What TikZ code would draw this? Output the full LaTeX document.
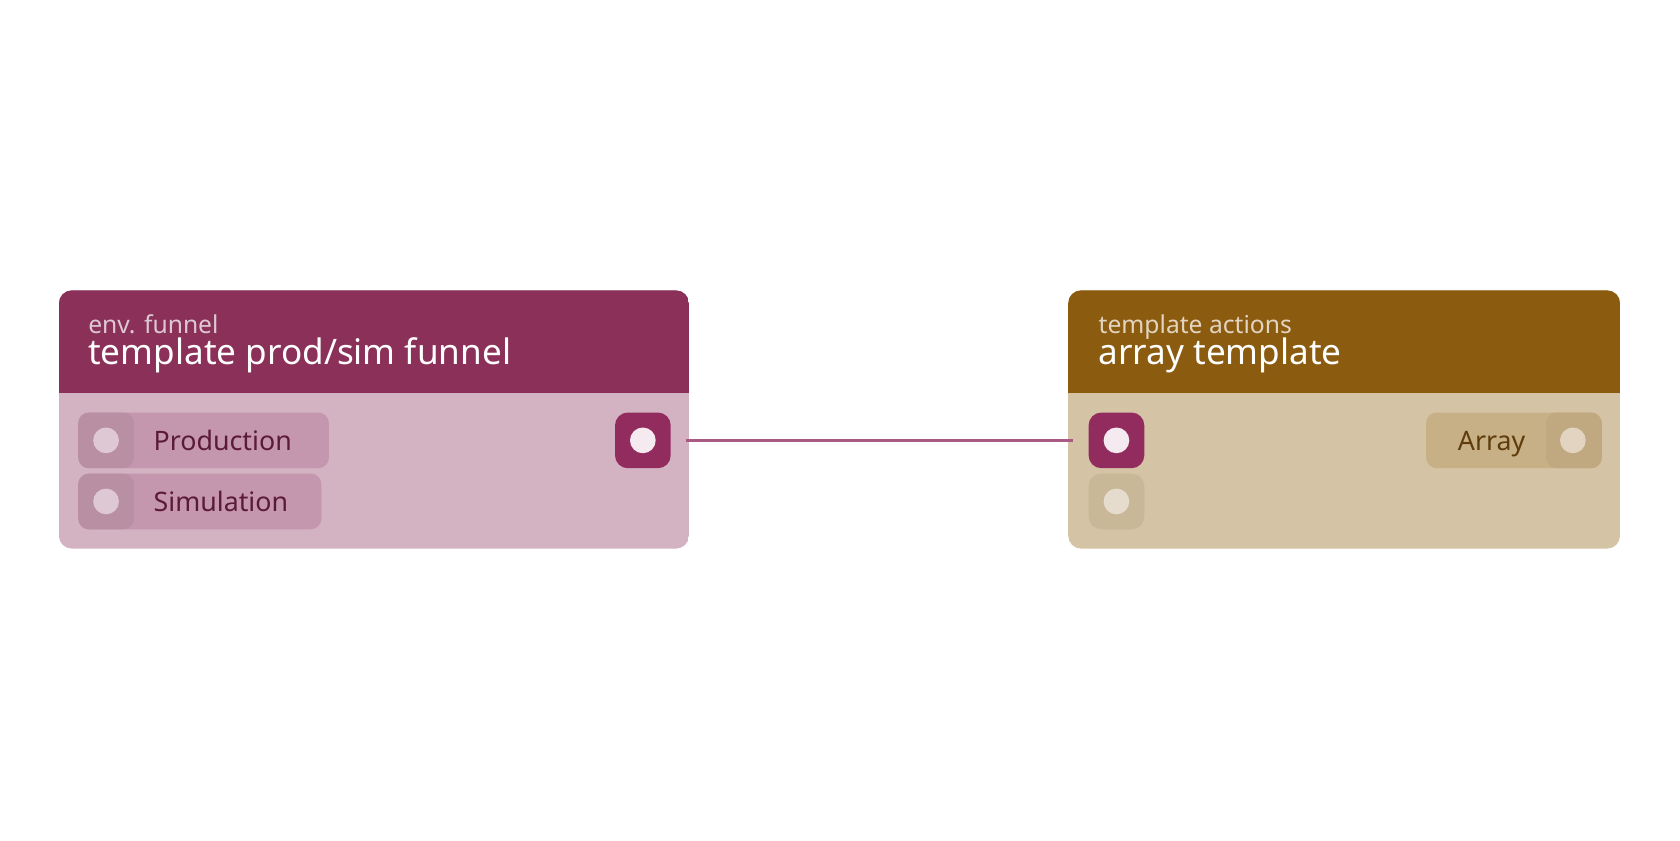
\documentclass[tikz,border=0pt]{standalone}
\usepackage{fontspec}
\setmainfont{Noto Sans}
\begin{document}
\definecolor{mhead}{HTML}{8A3059}
\definecolor{mbody}{HTML}{D3B2C2}
\definecolor{mpill}{HTML}{C497AE}
\definecolor{minner}{HTML}{B98FA4}
\definecolor{mdot}{HTML}{DEC8D3}
\definecolor{mport}{HTML}{922C5E}
\definecolor{mwhite}{HTML}{F5EAF0}
\definecolor{mtext}{HTML}{5C1A3A}
\definecolor{mline}{HTML}{A85A85}
\definecolor{bhead}{HTML}{8B5C10}
\definecolor{bbody}{HTML}{D4C3A4}
\definecolor{bpill}{HTML}{C8B086}
\definecolor{binner}{HTML}{C0A880}
\definecolor{bdot}{HTML}{E2D4C0}
\definecolor{bfport}{HTML}{C9B898}
\definecolor{bfdot}{HTML}{E5DCCE}
\definecolor{btext}{HTML}{5E3C0C}
\begin{tikzpicture}[x=0.5pt,y=-0.5pt,
  sub/.style={anchor=base west,inner sep=0,font=\fontsize{11.5}{12}\selectfont},
  ttl/.style={anchor=base west,inner sep=0,font=\fontsize{16.4}{18}\selectfont,text=white!95!mwhite},
  lbl/.style={anchor=base west,inner sep=0,font=\fontsize{12.5}{14}\selectfont},
  dot/.style={circle,inner sep=0,minimum size=12pt},
  port/.style={rounded corners=6pt}]
\useasboundingbox (0,0) rectangle (1568,784);
\fill[white] (0,0) rectangle (1568,784);
% left card
\begin{scope}
\clip[rounded corners=6pt] (55,271) rectangle (643,512);
\fill[mbody] (55,271) rectangle (643,512);
\fill[mhead] (55,271) rectangle (643,367);
\end{scope}
\node[sub,text=mdot] (s1) at (82,311) {env. funnel};
\node[ttl] (t1) at (82,340) {template prod/sim funnel};
% production pill
\fill[mpill,rounded corners=5pt] (73,385) rectangle (307,437);
\fill[minner,rounded corners=5pt] (73,385) rectangle (125,437);
\node[dot,fill=mdot] (p1) at (99,411) {};
\node[lbl,text=mtext] (l1) at (143,420) {Production};
\fill[mpill,rounded corners=5pt] (73,442) rectangle (300,494);
\fill[minner,rounded corners=5pt] (73,442) rectangle (125,494);
\node[dot,fill=mdot] (p2) at (99,468) {};
\node[lbl,text=mtext] (l2) at (143,477) {Simulation};
% output port
\fill[mport,port] (574,385) rectangle (626,437);
\node[dot,fill=mwhite] (out) at (600,411) {};
% right card
\begin{scope}
\clip[rounded corners=6pt] (997,271) rectangle (1512,512);
\fill[bbody] (997,271) rectangle (1512,512);
\fill[bhead] (997,271) rectangle (1512,367);
\end{scope}
\node[sub,text=bdot] (s2) at (1025,311) {template actions};
\node[ttl] (t2) at (1025,340) {array template};
\fill[mport,port] (1016,385) rectangle (1068,437);
\node[dot,fill=mwhite] (in) at (1042,411) {};
\fill[bfport,port] (1016,442) rectangle (1068,494);
\node[dot,fill=bfdot] (in2) at (1042,468) {};
\fill[bpill,rounded corners=5pt] (1331,385) rectangle (1495,437);
\fill[binner,rounded corners=5pt] (1443,385) rectangle (1495,437);
\node[dot,fill=bdot] (ar) at (1468,411) {};
\node[lbl,text=btext,anchor=base east] (l3) at (1424,420) {Array};
% connector
\draw[mline,line width=1.5pt] ([xshift=14]out.east) -- ([xshift=-14]in.west);
\end{tikzpicture}
\end{document}
